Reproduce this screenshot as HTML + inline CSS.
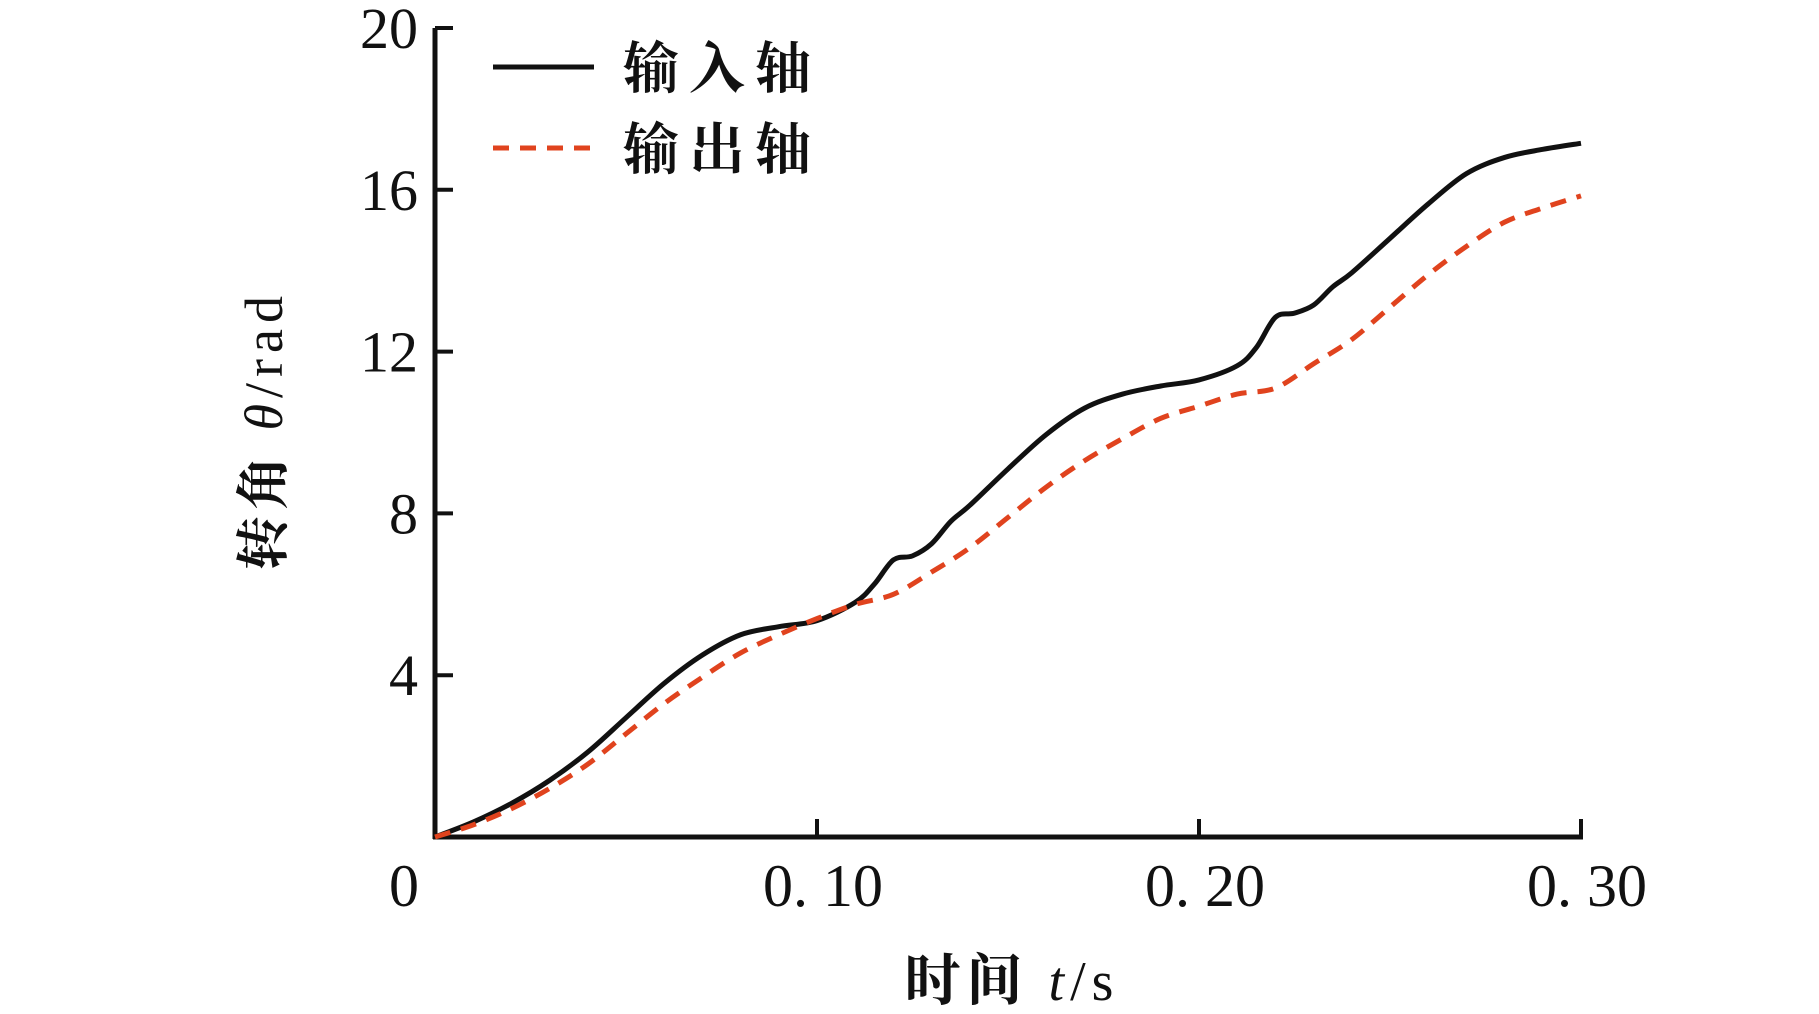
<!DOCTYPE html>
<html><head><meta charset="utf-8">
<style>
body{margin:0;background:#fff;}
svg{display:block;}
text{font-family:"Liberation Serif","Noto Serif CJK SC",serif;fill:#111;}
</style></head>
<body>
<svg id="chart" width="1819" height="1014" viewBox="0 0 1819 1014" xmlns="http://www.w3.org/2000/svg">
<g id="axes"></g>
<g id="series"></g>
<g>
  <line x1="493" y1="67" x2="594" y2="67" stroke="#111" stroke-width="5"/>
  <text x="623" y="88" font-size="56" font-weight="bold" letter-spacing="10">输入轴</text>
  <line x1="493" y1="148" x2="594" y2="148" stroke="#e0431e" stroke-width="5" stroke-dasharray="16,11"/>
  <text x="623" y="169" font-size="56" font-weight="bold" letter-spacing="10">输出轴</text>
</g>
<text transform="translate(282,430) rotate(-90)" text-anchor="middle" font-size="54" font-weight="bold" letter-spacing="6">转角 <tspan font-style="italic" font-weight="normal">θ</tspan><tspan font-weight="normal">/rad</tspan></text>
<text x="1012" y="1000" text-anchor="middle" font-size="56" font-weight="bold" letter-spacing="6">时间 <tspan font-style="italic" font-weight="normal">t</tspan><tspan font-weight="normal">/s</tspan></text>
</svg>
<script>
const times=[0,0.01,0.02,0.03,0.04,0.05,0.06,0.07,0.08,0.09,0.10,0.11,0.115,0.12,0.125,0.13,0.135,0.14,0.15,0.16,0.17,0.18,0.19,0.20,0.21,0.215,0.22,0.225,0.23,0.235,0.24,0.25,0.26,0.27,0.28,0.29,0.30];
const inputShaft=[0,0.37,0.83,1.4,2.1,2.95,3.8,4.5,5.0,5.2,5.35,5.8,6.25,6.85,6.95,7.25,7.8,8.2,9.1,9.95,10.6,10.95,11.15,11.3,11.65,12.1,12.85,12.95,13.15,13.6,13.95,14.8,15.65,16.4,16.8,17.0,17.15];
const outTimes=[0,0.01,0.02,0.03,0.04,0.05,0.06,0.07,0.08,0.09,0.10,0.11,0.12,0.13,0.14,0.15,0.16,0.17,0.18,0.19,0.20,0.21,0.22,0.23,0.24,0.25,0.26,0.27,0.28,0.29,0.30];
const outputShaft=[0,0.3,0.7,1.2,1.8,2.55,3.3,3.95,4.55,5.0,5.4,5.75,6.0,6.55,7.15,7.9,8.65,9.3,9.85,10.35,10.65,10.95,11.1,11.7,12.3,13.1,13.9,14.6,15.2,15.55,15.85];
const xTicks=[0,0.10,0.20,0.30];
const xTickLabels=["0","0. 10","0. 20","0. 30"];
const yTicks=[4,8,12,16,20];
const yTickLabels=["4","8","12","16","20"];

const X0=435,X1=1581,Y0=837,Y1=28;
const xs=t=>X0+t/0.30*(X1-X0);
const ys=v=>Y0-v/20*(Y0-Y1);
const NS="http://www.w3.org/2000/svg";
const axes=document.getElementById('axes');
const ser=document.getElementById('series');
function mk(tag,attrs,parent){const e=document.createElementNS(NS,tag);for(const k in attrs)e.setAttribute(k,attrs[k]);parent.appendChild(e);return e;}

const xl=mk('line',{x1:X0-2,y1:Y0,x2:X1+2,y2:Y0,stroke:'#111','stroke-width':5},axes);


const yl=mk('line',{x1:X0,y1:Y0+2,x2:X0,y2:Y1,stroke:'#111','stroke-width':5},axes);



xTicks.forEach((t,i)=>{
  if(t>0){const tk=mk('line',{x1:xs(t),y1:Y0,x2:xs(t),y2:Y0-18,stroke:'#111','stroke-width':4},axes);
  
  }
  const tx=mk('text',{x:t===0?X0-31:xs(t)+6,y:906,'text-anchor':'middle','font-size':60},axes);
  tx.textContent=xTickLabels[i];
  
  
});
yTicks.forEach((v,i)=>{
  const tk=mk('line',{x1:X0,y1:ys(v),x2:X0+18,y2:ys(v),stroke:'#111','stroke-width':4},axes);
  
  
  const tx=mk('text',{x:X0-17,y:ys(v)+20,'text-anchor':'end','font-size':58},axes);
  tx.textContent=yTickLabels[i];
  
  
});

function smooth(ts,vs){
  const p=ts.map((t,i)=>[xs(t),ys(vs[i])]);
  let d=`M${p[0][0]},${p[0][1]}`;
  for(let i=0;i<p.length-1;i++){
    const a=p[i-1]||p[i],b=p[i],c=p[i+1],e=p[i+2]||c;
    d+=` C${b[0]+(c[0]-a[0])/6},${b[1]+(c[1]-a[1])/6} ${c[0]-(e[0]-b[0])/6},${c[1]-(e[1]-b[1])/6} ${c[0]},${c[1]}`;
  }
  return d;
}
const l1=mk('path',{d:smooth(times,inputShaft),fill:'none',stroke:'#111','stroke-width':5,'stroke-linejoin':'round'},ser);


const l2=mk('path',{d:smooth(outTimes,outputShaft),fill:'none',stroke:'#e0431e','stroke-width':5,'stroke-dasharray':'16,11'},ser);


</script>
</body></html>
